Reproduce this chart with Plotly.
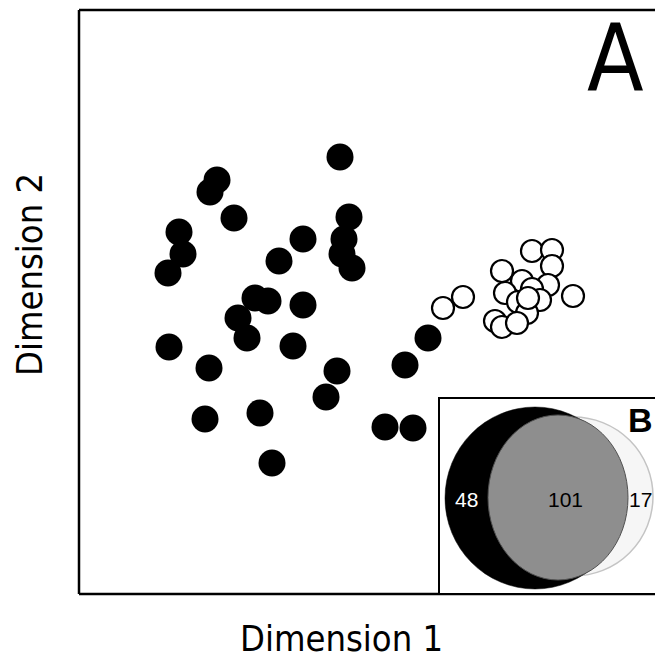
import plotly.graph_objects as go

# Dimension scores (arbitrary units)
black_x = [261, 138, 131, 155, 270, 100, 224, 265, 104, 263, 200, 89, 273, 176, 189,
           224, 159, 168, 90, 214, 130, 258, 247, 126, 181, 193, 349, 326, 306, 334]
black_y = [437, 414, 402, 376, 377, 362, 355, 355, 340, 340, 333, 321, 326, 296, 293,
           289, 276, 256, 247, 248, 226, 223, 197, 175, 181, 131, 256, 229, 167, 166]

white_x = [364, 384, 453, 473, 473, 423, 443, 469, 426, 453, 439, 461, 494, 448, 416,
           423, 438, 449]
white_y = [286, 297, 343, 344, 328, 323, 313, 309, 301, 305, 292, 294, 298, 281, 273,
           267, 271, 296]

venn_labels = ["48", "101", "17"]
axis_titles = ["Dimension 1", "Dimension 2"]
panel_labels = ["A", "B"]

W, H = 655, 660
L, T, B = 79, 10, 66
PW, PH = W - L, H - T - B

def px(x):
    return (x - L) / PW

def py(y):
    return (H - B - y) / PH

NARROW = "Liberation Sans Narrow, DejaVu Sans Condensed, Arial Narrow, Roboto Condensed, Liberation Sans, sans-serif"
ARIAL = "Liberation Sans, Arial, sans-serif"

fig = go.Figure()
fig.add_trace(go.Scatter(
    x=white_x, y=white_y, mode="markers",
    marker=dict(size=22, color="white", line=dict(color="black", width=2.2)),
    hoverinfo="skip", showlegend=False))
fig.add_trace(go.Scatter(
    x=black_x, y=black_y, mode="markers",
    marker=dict(size=27, color="black", line=dict(width=0)),
    hoverinfo="skip", showlegend=False))

shapes = []
# frame: left, top, bottom
shapes.append(dict(type="line", xref="paper", yref="paper", x0=0, x1=0, y0=0, y1=1,
                   line=dict(color="black", width=2.5)))
shapes.append(dict(type="line", xref="paper", yref="paper", x0=0, x1=px(670), y0=1, y1=1,
                   line=dict(color="black", width=2.5)))
shapes.append(dict(type="line", xref="paper", yref="paper", x0=0, x1=px(670), y0=0, y1=0,
                   line=dict(color="black", width=2.5)))
# inset box
shapes.append(dict(type="rect", xref="paper", yref="paper", x0=px(439), x1=px(675),
                   y0=py(594), y1=py(398), fillcolor="white",
                   line=dict(color="black", width=2)))

def ellipse(cx, cy, rx, ry, fill, lc, lw):
    return dict(type="circle", xref="paper", yref="paper",
                x0=px(cx - rx), x1=px(cx + rx), y0=py(cy + ry), y1=py(cy - ry),
                fillcolor=fill, line=dict(color=lc, width=lw))

shapes.append(ellipse(573.5, 496.5, 79.5, 79.5, "#f6f6f6", "#c4c4c4", 1.5))
shapes.append(ellipse(535, 498, 90, 91, "black", "black", 0.5))
shapes.append(ellipse(558, 497.5, 70, 82.5, "#8e8e8e", "#505050", 1))

annotations = [
    dict(text=venn_labels[0], x=px(466), y=py(499), font=dict(size=21, color="white", family=ARIAL)),
    dict(text=venn_labels[1], x=px(565), y=py(499), font=dict(size=21, color="black", family=ARIAL)),
    dict(text=venn_labels[2], x=px(640), y=py(499), font=dict(size=21, color="black", family=ARIAL)),
    dict(text="<b>" + panel_labels[1] + "</b>", x=px(640), y=py(420),
         font=dict(size=34, color="black", family=ARIAL)),
    dict(text=panel_labels[0], x=px(615), y=py(58),
         font=dict(size=92, color="black", family=NARROW)),
    dict(text=axis_titles[0], x=px(341), y=py(638),
         font=dict(size=36, color="black", family=NARROW)),
    dict(text=axis_titles[1], x=px(29), y=py(275), textangle=-90,
         font=dict(size=36, color="black", family=NARROW)),
]
for a in annotations:
    a.update(xref="paper", yref="paper", showarrow=False, xanchor="center", yanchor="middle")

fig.update_layout(
    width=W, height=H,
    margin=dict(l=L, r=0, t=T, b=B, pad=0),
    paper_bgcolor="white", plot_bgcolor="white",
    xaxis=dict(range=[0, PW], visible=False, fixedrange=True),
    yaxis=dict(range=[0, PH], visible=False, fixedrange=True),
    shapes=shapes, annotations=annotations,
)
fig.write_html("out.html", config={"displayModeBar": False})
